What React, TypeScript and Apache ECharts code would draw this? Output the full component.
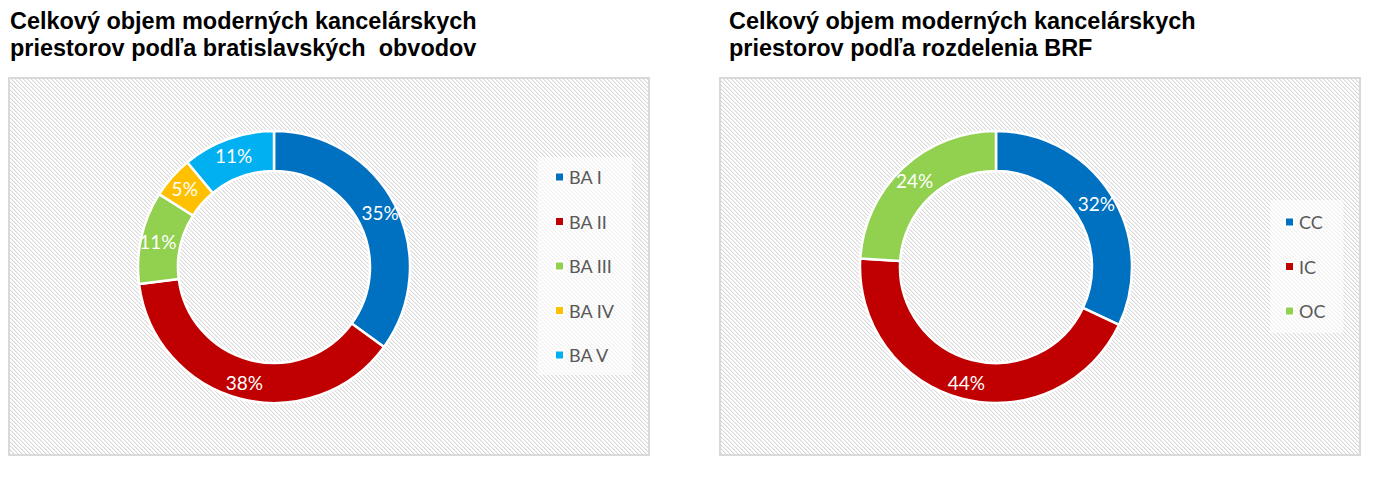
import React, { useEffect, useRef } from "react";
import * as echarts from "echarts";

const titleLeft = "Celkový objem moderných kancelárskych\npriestorov podľa bratislavských  obvodov";
const titleRight = "Celkový objem moderných kancelárskych\npriestorov podľa rozdelenia BRF";

const leftNames = ["BA I", "BA II", "BA III", "BA IV", "BA V"];
const leftValues = [35, 38, 11, 5, 11];
const leftColors = ["#0070C0", "#C00000", "#92D050", "#FFC000", "#00B0F0"];

const rightNames = ["CC", "IC", "OC"];
const rightValues = [32, 44, 24];
const rightColors = ["#0070C0", "#C00000", "#92D050"];

function makeHatch(): string {
  const c = document.createElement("canvas");
  c.width = 4;
  c.height = 4;
  const ctx = c.getContext("2d");
  if (!ctx) return "";
  const img = ctx.createImageData(4, 4);
  for (let y = 0; y < 4; y++) {
    for (let x = 0; x < 4; x++) {
      const d = (((x - y) % 4) + 4) % 4;
      const v = d === 0 ? 218 : d === 1 ? 238 : 255;
      const i = (y * 4 + x) * 4;
      img.data[i] = v;
      img.data[i + 1] = v;
      img.data[i + 2] = v;
      img.data[i + 3] = 255;
    }
  }
  ctx.putImageData(img, 0, 0);
  return c.toDataURL("image/png");
}

export default function App() {
  const ref = useRef<HTMLDivElement>(null);
  useEffect(() => {
    if (!ref.current) return;
    const chart = echarts.init(ref.current, null, { renderer: "svg" });
    const hatch = makeHatch();
    const panelFill: any = hatch ? { image: hatch, repeat: "repeat" } : "#ececec";
    const labelStyle = {
      show: true,
      position: "inside",
      formatter: "{d}%",
      color: "#ffffff",
      fontSize: 19,
      fontFamily: "Lato, 'Liberation Sans', sans-serif",
    };
    const titleStyle = (text: string) => ({
      text,
      fill: "#000",
      fontFamily: "'Liberation Sans', Arial, sans-serif",
      fontWeight: "bold",
      fontSize: 23,
      lineHeight: 27,
      verticalAlign: "top",
      align: "left",
    });
    const legendText = {
      color: "#595959",
      fontSize: 18,
      lineHeight: 20,
      fontFamily: "Lato, 'Liberation Sans', sans-serif",
    };
    const mkData = (names: string[], vals: number[], cols: string[]) =>
      names.map((n, i) => ({ name: n, value: vals[i], itemStyle: { color: cols[i] } }));

    chart.setOption({
      animation: false,
      graphic: [
        {
          type: "rect",
          z: -10,
          shape: { x: 9, y: 78, width: 640, height: 377 },
          style: { fill: panelFill, stroke: "#d9d9d9", lineWidth: 2 },
        },
        {
          type: "rect",
          z: -10,
          shape: { x: 720, y: 78, width: 640, height: 377 },
          style: { fill: panelFill, stroke: "#d9d9d9", lineWidth: 2 },
        },
        { type: "text", x: 10, y: 8, scaleX: 1.02, style: titleStyle(titleLeft) },
        { type: "text", x: 729, y: 8, scaleX: 1.02, style: titleStyle(titleRight) },
      ],
      legend: [
        {
          data: leftNames,
          orient: "vertical",
          left: 538,
          top: 157,
          padding: [10, 18, 10, 16],
          itemWidth: 9,
          itemHeight: 9,
          itemGap: 24.5,
          icon: "rect",
          backgroundColor: "rgba(255,255,255,0.6)",
          textStyle: legendText,
        },
        {
          data: rightNames,
          orient: "vertical",
          left: 1270,
          top: 200,
          padding: [12, 18, 12, 14],
          itemWidth: 9,
          itemHeight: 9,
          itemGap: 24.5,
          icon: "rect",
          backgroundColor: "rgba(255,255,255,0.6)",
          textStyle: legendText,
        },
      ],
      series: [
        {
          type: "pie",
          center: [274, 267],
          radius: [96, 136],
          startAngle: 90,
          clockwise: true,
          itemStyle: { borderColor: "#ffffff", borderWidth: 2.5 },
          label: labelStyle,
          labelLine: { show: false },
          emphasis: { disabled: true },
          data: mkData(leftNames, leftValues, leftColors),
        },
        {
          type: "pie",
          center: [996, 267],
          radius: [96, 136],
          startAngle: 90,
          clockwise: true,
          itemStyle: { borderColor: "#ffffff", borderWidth: 2.5 },
          label: labelStyle,
          labelLine: { show: false },
          emphasis: { disabled: true },
          data: mkData(rightNames, rightValues, rightColors),
        },
      ],
    });
    return () => chart.dispose();
  }, []);
  return (
    <div
      ref={ref}
      style={{ position: "fixed", left: 0, top: 0, width: 1375, height: 494, background: "#fff" }}
    />
  );
}
